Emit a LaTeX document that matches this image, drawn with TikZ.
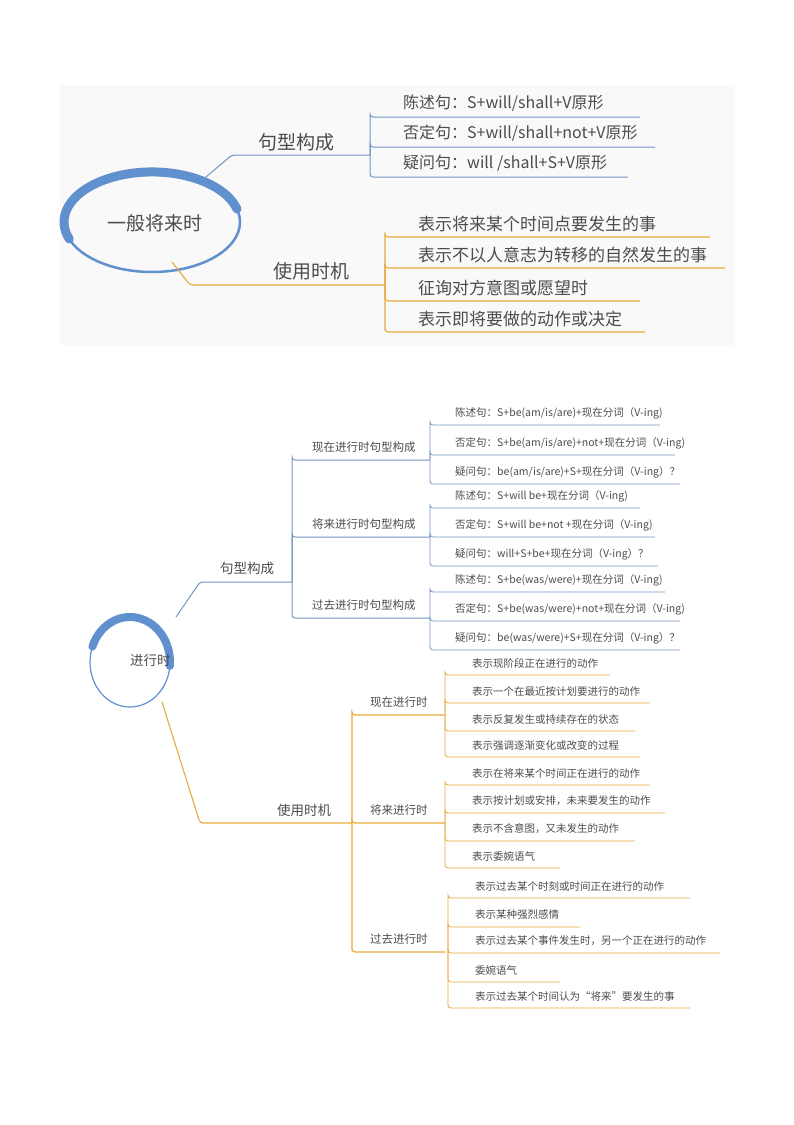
\documentclass[tikz,border=0pt]{standalone}
\usepackage{fontspec}
\setmainfont{Noto Sans CJK SC}
\begin{document}
\begin{tikzpicture}[x=1pt,y=-1pt,
  bl/.style={draw=blueL,line width=1pt,rounded corners=3pt},
  og/.style={draw=orangeL,line width=1.1pt,rounded corners=3pt},
  txt/.style={anchor=west,inner sep=0pt,text=black!70},
  tA/.style={txt,font=\fontsize{16}{16}\selectfont},
  tB/.style={txt,font=\fontsize{19}{19}\selectfont},
  tC/.style={txt,font=\fontsize{10.5}{10.5}\selectfont},
  tD/.style={txt,font=\fontsize{11.5}{11.5}\selectfont},
  tE/.style={txt,font=\fontsize{13.5}{13.5}\selectfont}]
\definecolor{blueL}{RGB}{116,148,196}
\definecolor{blueT}{RGB}{96,144,206}
\definecolor{orangeL}{RGB}{232,170,60}
\useasboundingbox (0,0) rectangle (794,1125);
\fill[gray!5] (60,85) rectangle (735,345);
% ---------- top map ----------
\draw[blueT,line width=2.5pt] (152,222) ellipse [x radius=88,y radius=50];
\draw[blueT,line width=9pt,line cap=round] (237,209) arc[start angle=-15,end angle=-200,x radius=88,y radius=50];
\node[tB] (c1) at (107,223) {一般将来时};
\coordinate (a1) at (200,182);
\coordinate (b1) at (172,262);
\node[tB] (n1) at (258,142) {句型构成};
\node[tB] (n2) at (273,271) {使用时机};
\draw[bl] (a1) -- (232,155) -- (370,155);
\draw[og] (b1) -- (190,285) -- (385,285);
\foreach \y/\e/\t [count=\i] in {117/640/{陈述句：S+will/shall+V原形},147/655/{否定句：S+will/shall+not+V原形},177/628/{疑问句：will /shall+S+V原形}}{
  \node[tA] (s\i) at (403,\y-14) {\t};
  \draw[bl] (370,155) |- (370,\y) -- (\e,\y);}
\foreach \y/\e/\t [count=\i] in {237/710/表示将来某个时间点要发生的事,268/725/表示不以人意志为转移的自然发生的事,301/640/征询对方意图或愿望时,332/645/表示即将要做的动作或决定}{
  \node[tB,font=\fontsize{17}{17}\selectfont] (u\i) at (418,\y-13) {\t};
  \draw[og] (385,285) |- (385,\y) -- (\e,\y);}
% ---------- bottom map ----------
\draw[blueT,line width=1.2pt] (130,662) ellipse [x radius=40,y radius=45];
\draw[blueT,line width=8pt,line cap=round] (92.4,646.6) arc[start angle=-160,end angle=5,x radius=40,y radius=45];
\node[tE] (c2) at (130,660) {进行时};
\coordinate (a2) at (176,617);
\coordinate (b2) at (162,702);
\node[tE] (m1) at (220,568) {句型构成};
\node[tE] (m2) at (277,810) {使用时机};
\draw[bl] (a2) -- (200,582) -- (292,582);
\draw[og] (b2) -- (200,823) -- (352,823);
\foreach \y/\t [count=\i] in {460/现在进行时句型构成,537/将来进行时句型构成,618/过去进行时句型构成}{
  \node[tD] (p\i) at (312,\y-13) {\t};
  \draw[bl] (292,582) |- (292,\y) -- (430,\y);}
\foreach \y/\t [count=\i] in {715/现在进行时,823/将来进行时,952/过去进行时}{
  \node[tD] (q\i) at (370,\y-13) {\t};
  \draw[og] (352,823) |- (352,\y) -- (445,\y);}
% sentence leaves
\foreach \m/\y/\e/\t in {
 460/425/660/{陈述句：S+be(am/is/are)+现在分词（V-ing)},
 460/455/675/{否定句：S+be(am/is/are)+not+现在分词（V-ing)},
 460/484/680/{疑问句：be(am/is/are)+S+现在分词（V-ing）？},
 537/508/640/{陈述句：S+will be+现在分词（V-ing)},
 537/537/655/{否定句：S+will be+not +现在分词（V-ing)},
 537/566/658/{疑问句：will+S+be+现在分词（V-ing）？},
 618/592/665/{陈述句：S+be(was/were)+现在分词（V-ing)},
 618/621/680/{否定句：S+be(was/were)+not+现在分词（V-ing)},
 618/650/680/{疑问句：be(was/were)+S+现在分词（V-ing）？}}{
  \node[tC] at (455,\y-12) {\t};
  \draw[bl,line width=0.8pt] (430,\m) |- (430,\y) -- (\e,\y);}
% usage leaves
\foreach \m/\x/\y/\e/\t in {
 715/445/675/610/表示现阶段正在进行的动作,
 715/445/703/650/表示一个在最近按计划要进行的动作,
 715/445/731/635/表示反复发生或持续存在的状态,
 715/445/757/640/表示强调逐渐变化或改变的过程,
 823/445/785/650/表示在将来某个时间正在进行的动作,
 823/445/813/665/{表示按计划或安排，未来要发生的动作},
 823/445/841/635/{表示不含意图，又未发生的动作},
 823/445/868/560/表示委婉语气,
 952/448/898/690/表示过去某个时刻或时间正在进行的动作,
 952/448/927/580/表示某种强烈感情,
 952/448/953/720/{表示过去某个事件发生时，另一个正在进行的动作},
 952/448/982/560/委婉语气,
 952/448/1008/690/表示过去某个时间认为“将来”要发生的事}{
  \node[tC] at (\x+27,\y-12) {\t};
  \draw[og,line width=0.8pt] (\x,\m) |- (\x,\y) -- (\e,\y);}
\end{tikzpicture}
\end{document}
